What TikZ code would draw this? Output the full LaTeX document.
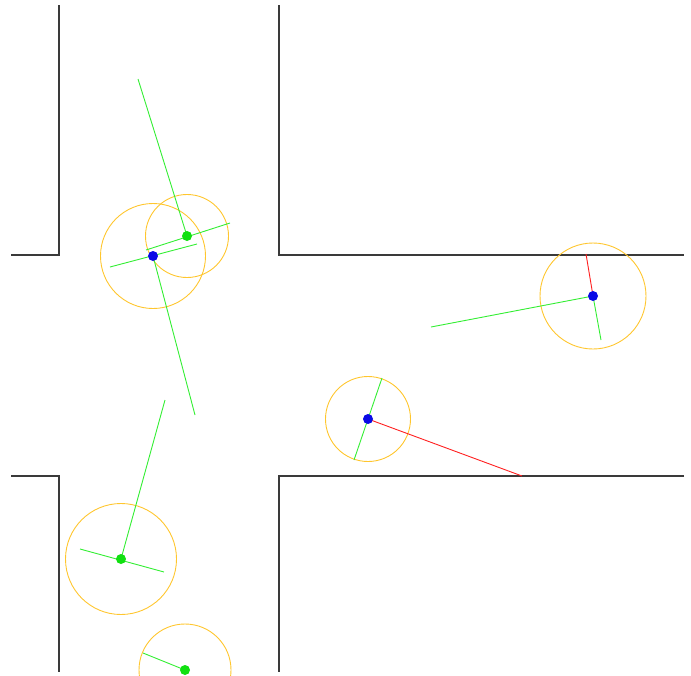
\documentclass[tikz,border=0pt]{standalone}
\usetikzlibrary{calc}
\definecolor{wall}{HTML}{3A3A3A}
\definecolor{ring}{HTML}{FFC62E}
\definecolor{ray}{HTML}{33EE33}
\definecolor{hit}{HTML}{FF2020}
\definecolor{bot}{HTML}{0A0AE6}
\definecolor{goal}{HTML}{11E011}

\begin{document}
\begin{tikzpicture}[
    x=1pt, y=-1pt,
    wallline/.style={draw=wall, line width=1.3pt},
    ringline/.style={draw=ring, line width=0.9pt},
    sensor/.style={draw=ray, line width=0.9pt},
    blocked/.style={draw=hit, line width=0.9pt},
    robot/.style={fill=bot},
    target/.style={fill=goal},
  ]
  \clip (0,0) rectangle (691,675);
  \useasboundingbox (0,0) rectangle (691,675);

  \draw[wallline] (59,5) -- (59,255) -- (11,255);
  \draw[wallline] (279,5) -- (279,255) -- (684,255);
  \draw[wallline] (11,476) -- (59,476) -- (59,672);
  \draw[wallline] (684,476) -- (279,476) -- (279,672);

  \coordinate (g1) at (187,236);
  \coordinate (b1) at (153,256);
  \coordinate (b2) at (593,296);
  \coordinate (b3) at (368,419);
  \coordinate (g2) at (121,559);
  \coordinate (g3) at (185,670);

  \draw[ringline] (g1) circle (41.5);
  \draw[ringline] (b1) circle (52.5);
  \draw[ringline] (b2) circle (53);
  \draw[ringline] (b3) circle (42.5);
  \draw[ringline] (g2) circle (55.5);
  \draw[ringline] (g3) circle (46);

  \coordinate (g1a) at (138,79);
  \coordinate (g1b) at (146,250);
  \coordinate (g1c) at (230,223);
  \draw[sensor] (g1) -- (g1a);
  \draw[sensor] (g1b) -- (g1c);

  \coordinate (b1a) at (110,267);
  \coordinate (b1b) at (197,244);
  \coordinate (b1c) at (195,415);
  \draw[sensor] (b1a) -- (b1b);
  \draw[sensor] (b1) -- (b1c);

  \coordinate (b2a) at (586,254);
  \coordinate (b2b) at (431,327);
  \coordinate (b2c) at (601,340);
  \draw[blocked] (b2) -- (b2a);
  \draw[sensor] (b2) -- (b2b);
  \draw[sensor] (b2) -- (b2c);

  \coordinate (b3a) at (382,378);
  \coordinate (b3b) at (354,460);
  \coordinate (b3c) at (522,476);
  \draw[sensor] (b3a) -- (b3b);
  \draw[blocked] (b3) -- (b3c);

  \coordinate (g2a) at (165,400);
  \coordinate (g2b) at (80,549);
  \coordinate (g2c) at (164,572);
  \draw[sensor] (g2) -- (g2a);
  \draw[sensor] (g2b) -- (g2c);

  \coordinate (g3a) at (143,653);
  \draw[sensor] (g3) -- (g3a);

  \fill[target] (g1) circle (5);
  \fill[target] (g2) circle (5);
  \fill[target] (g3) circle (5);
  \fill[robot] (b1) circle (5);
  \fill[robot] (b2) circle (5);
  \fill[robot] (b3) circle (5);
\end{tikzpicture}
\end{document}
